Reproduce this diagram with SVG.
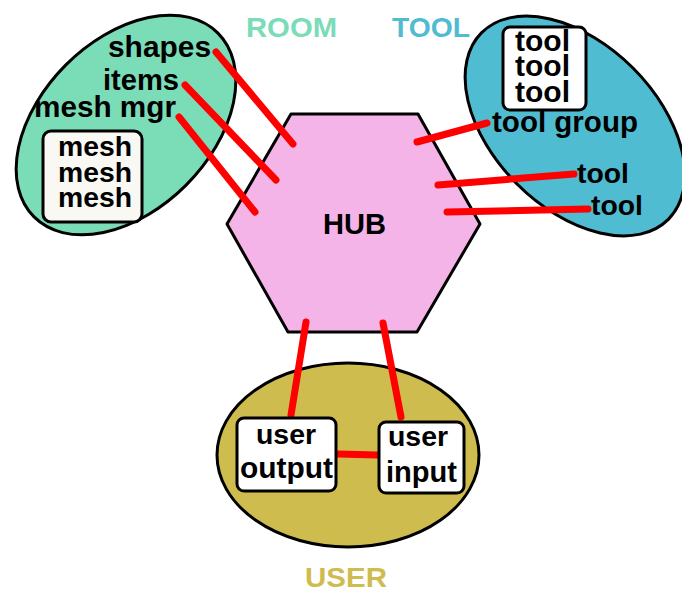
<svg xmlns="http://www.w3.org/2000/svg" width="682" height="592" viewBox="0 0 682 592">
<style>
.blob{stroke:#000;stroke-width:3}
.box{fill:#fff;stroke:#000;stroke-width:3}
.t{font-family:"Liberation Sans",Arial,sans-serif;font-weight:bold;fill:#000}
.lbl{font-family:"Liberation Sans",Arial,sans-serif;font-weight:bold;font-size:28px}
.wire{stroke:#fe0000;stroke-width:7;stroke-linecap:round;fill:none}
</style>
<rect width="682" height="592" fill="#fff"/>
<g id="room">
<ellipse class="blob" cx="126" cy="125" rx="130" ry="85" transform="rotate(-45 126 125)" fill="#7bdcb8"/>
<text class="lbl" x="246" y="37" fill="#7bdcb8" textLength="91" lengthAdjust="spacingAndGlyphs">ROOM</text>
</g>
<g id="tool">
<ellipse class="blob" cx="575" cy="126" rx="132" ry="82" transform="rotate(45 575 126)" fill="#4fbcd1"/>
<text class="lbl" x="392" y="37" fill="#4fbcd1" textLength="78" lengthAdjust="spacingAndGlyphs">TOOL</text>
</g>
<g id="user">
<ellipse class="blob" cx="348" cy="455" rx="131" ry="92" fill="#cfbc4e"/>
<text class="lbl" x="305" y="587" fill="#cfbc4e" textLength="82" lengthAdjust="spacingAndGlyphs">USER</text>
</g>
<g id="hub">
<polygon class="blob" points="291,114 418,114 480,224 417,332 288,332 227,224" fill="#f4b4e8" stroke-linejoin="round"/>
<text class="t" x="323" y="234" font-size="29" textLength="63" lengthAdjust="spacingAndGlyphs">HUB</text>
</g>
<g id="connectors">
<line class="wire" x1="216" y1="52" x2="293" y2="144"/>
<line class="wire" x1="185" y1="85" x2="276" y2="180"/>
<line class="wire" x1="179" y1="117" x2="255" y2="212"/>
<line class="wire" x1="487" y1="123" x2="417" y2="142"/>
<line class="wire" x1="574" y1="174" x2="438" y2="185"/>
<line class="wire" x1="588" y1="209" x2="447" y2="212"/>
<line class="wire" x1="306" y1="322" x2="291" y2="415"/>
<line class="wire" x1="383" y1="323" x2="401" y2="417"/>
<line class="wire" x1="338" y1="454" x2="377" y2="455"/>
</g>
<g id="shapes"><text class="t" x="108" y="57" font-size="30" textLength="103" lengthAdjust="spacingAndGlyphs">shapes</text></g>
<g id="items"><text class="t" x="103" y="90" font-size="29.5" textLength="76" lengthAdjust="spacingAndGlyphs">items</text></g>
<g id="mesh-mgr"><text class="t" x="34" y="117" font-size="30" textLength="142" lengthAdjust="spacingAndGlyphs">mesh mgr</text></g>
<g id="meshes">
<rect class="box" x="43" y="131" width="99" height="91" rx="8" style="fill:#faf8f3"/>
<text class="t" x="58" y="156" font-size="28" textLength="74" lengthAdjust="spacingAndGlyphs">mesh</text>
<text class="t" x="58" y="182" font-size="28" textLength="74" lengthAdjust="spacingAndGlyphs">mesh</text>
<text class="t" x="58" y="207" font-size="28" textLength="74" lengthAdjust="spacingAndGlyphs">mesh</text>
</g>
<g id="tools">
<rect class="box" x="503" y="27" width="83" height="83" rx="7"/>
<text class="t" x="515" y="51" font-size="29" textLength="55" lengthAdjust="spacingAndGlyphs">tool</text>
<text class="t" x="515" y="76" font-size="29" textLength="55" lengthAdjust="spacingAndGlyphs">tool</text>
<text class="t" x="515" y="102" font-size="29" textLength="55" lengthAdjust="spacingAndGlyphs">tool</text>
</g>
<g id="tool-group"><text class="t" x="492" y="132" font-size="29.5" textLength="146" lengthAdjust="spacingAndGlyphs">tool group</text></g>
<g id="tool-1"><text class="t" x="577" y="183" font-size="28.5" textLength="52" lengthAdjust="spacingAndGlyphs">tool</text></g>
<g id="tool-2"><text class="t" x="591" y="215" font-size="28.5" textLength="52" lengthAdjust="spacingAndGlyphs">tool</text></g>
<g id="user-output">
<rect class="box" x="237" y="418" width="99" height="73" rx="7"/>
<text class="t" x="256" y="444" font-size="28.5" textLength="60" lengthAdjust="spacingAndGlyphs">user</text>
<text class="t" x="240" y="478" font-size="30" textLength="93" lengthAdjust="spacingAndGlyphs">output</text>
</g>
<g id="user-input">
<rect class="box" x="379" y="422" width="85" height="71" rx="7"/>
<text class="t" x="388" y="446" font-size="28.5" textLength="60" lengthAdjust="spacingAndGlyphs">user</text>
<text class="t" x="386" y="482" font-size="29" textLength="71" lengthAdjust="spacingAndGlyphs">input</text>
</g>
</svg>
